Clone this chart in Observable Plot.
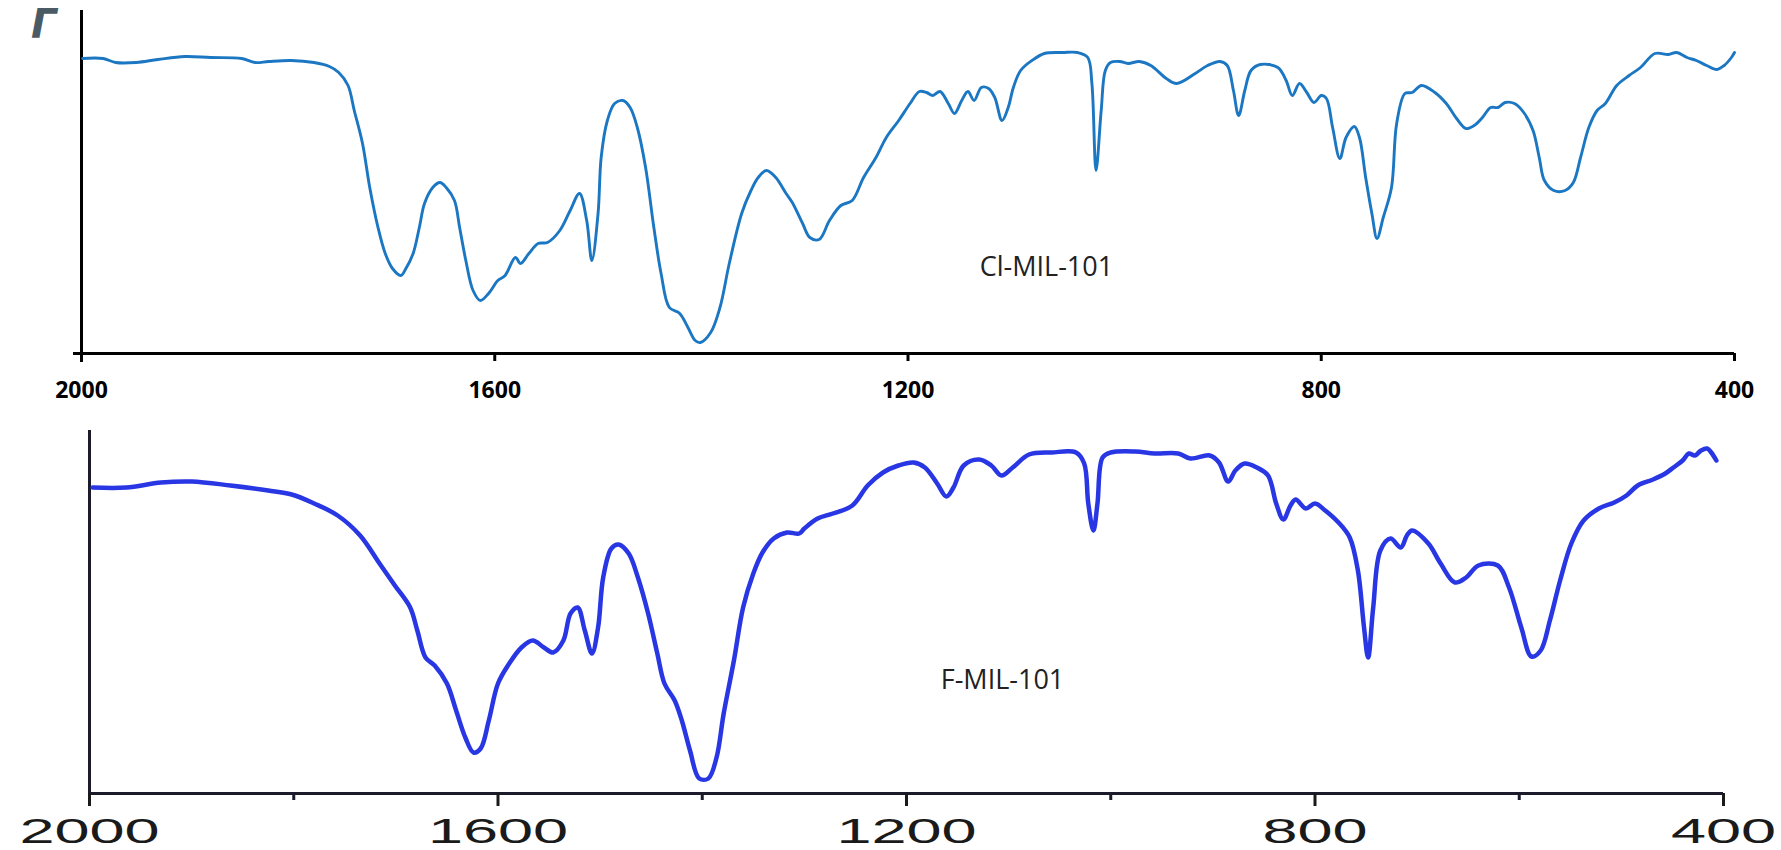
<!DOCTYPE html>
<html>
<head>
<meta charset="utf-8">
<script src="https://cdn.jsdelivr.net/npm/d3@7"></script>
<script src="https://cdn.jsdelivr.net/npm/@observablehq/plot@0.6"></script>
<style>
html, body { margin: 0; padding: 0; background: #fff; width: 1781px; height: 850px; overflow: hidden; }
#wrap { position: relative; width: 1781px; height: 850px; }
#top { position: absolute; left: 0; top: 0; }
#bottom { position: absolute; left: 0; top: 420px; }
#glyph { position: absolute; left: 31px; top: 4px; font: italic bold 40px "DejaVu Sans"; line-height: 1; color: #4b5b66; }
</style>
</head>
<body>
<div id="wrap">
  <div id="glyph">Γ</div>
  <div id="top"></div>
  <div id="bottom"></div>
</div>
<script>
// ---- Cl-MIL-101 spectrum (wavenumber, transmittance in arbitrary units) ----
const wnCl = [1999,1979,1967,1947,1926,1900,1875,1845,1832,1819,
  1797,1775,1760,1751,1742,1736,1728,1721,1713,1706,
  1699,1691,1686,1679,1673,1668,1660,1653,1647,1639,
  1634,1628,1621,1614,1606,1597,1590,1580,1575,1567,
  1558,1549,1537,1527,1518,1511,1506,1500,1497,1491,
  1484,1476,1469,1462,1454,1446,1439,1431,1421,1413,
  1406,1401,1391,1382,1373,1361,1352,1345,1337,1328,
  1318,1312,1302,1295,1286,1276,1265,1254,1243,1231,
  1221,1209,1198,1189,1182,1176,1169,1161,1155,1148,
  1142,1136,1129,1122,1116,1109,1103,1098,1091,1080,
  1068,1050,1036,1026,1022,1018,1013,1009,1004,995,
  987,976,965,950,940,922,910,898,891,885,
  880,874,868,859,842,834,828,821,814,807,
  800,795,789,782,776,768,763,757,751,746,
  740,732,727,719,712,703,690,679,669,660,
  652,644,636,629,622,613,604,595,589,584,
  575,564,556,549,541,533,525,514,502,491,
  477,464,456,446,437,427,417,410,403,400];
const tCl = [295,295,291,291,294,297,296,295,291,292,
  293,291,287,281,268,243,210,166,126,100,
  85,78,85,100,126,150,166,171,166,153,
  126,93,63,53,60,73,78,96,90,100,
  110,111,123,143,160,133,93,140,196,233,
  250,253,246,226,186,126,80,46,40,26,
  13,11,21,46,90,140,163,176,183,176,
  160,151,130,116,114,133,148,153,176,196,
  216,233,250,262,261,258,262,250,240,253,
  262,253,266,265,256,233,246,266,283,293,
  300,301,301,296,270,183,243,283,291,292,
  290,292,288,275,270,280,288,292,288,263,
  238,263,283,289,286,273,258,270,261,251,
  258,255,226,195,216,227,216,176,140,115,
  136,166,230,260,261,268,261,250,235,225,
  228,236,246,246,251,250,241,223,196,173,
  163,163,171,196,226,243,250,268,278,286,
  300,299,301,296,293,288,284,288,296,301];

// ---- F-MIL-101 spectrum ----
const wnF = [1997,1964,1930,1900,1862,1825,1802,1780,1757,1735,
  1716,1701,1686,1679,1671,1662,1650,1641,1632,1624,
  1617,1609,1600,1589,1577,1566,1555,1546,1536,1529,
  1522,1515,1508,1502,1497,1489,1482,1472,1463,1453,
  1444,1437,1427,1420,1412,1403,1394,1386,1379,1369,
  1360,1350,1341,1330,1317,1305,1300,1287,1272,1253,
  1238,1223,1208,1193,1182,1170,1161,1154,1144,1129,
  1117,1107,1096,1080,1058,1034,1026,1022,1017,1013,
  1008,1000,976,957,934,922,903,894,885,878,
  869,857,846,838,831,824,819,809,800,790,
  777,766,758,752,748,743,736,726,716,710,
  705,689,677,663,652,640,621,610,598,588,
  579,570,560,549,537,522,507,495,484,469,
  457,449,440,434,428,422,416,412,407];
const tF = [306,306,311,312,308,303,299,290,278,258,
  230,208,186,163,136,128,110,83,56,41,
  45,73,110,130,146,153,146,141,153,180,
  186,163,140,166,216,245,249,240,216,180,
  140,110,93,73,43,15,15,36,80,133,
  186,220,241,255,261,260,265,275,280,288,
  308,321,328,331,326,310,297,306,328,334,
  328,318,326,339,341,341,330,290,263,290,
  336,341,342,340,340,335,338,331,312,323,
  330,326,318,290,274,288,294,285,290,283,
  271,256,223,166,136,186,243,255,246,258,
  263,250,230,211,216,228,228,206,166,137,
  143,173,213,250,273,285,291,298,308,314,
  320,326,333,340,338,343,345,341,333];

// ---- axes ticks and annotations ----
const xTicks = [2000, 1600, 1200, 800, 400];
const xMinorTicks = [1800, 1400, 1000, 600];
const labelNames = ["Cl-MIL-101", "F-MIL-101"];
const labelWn = [1066, 1106];
const labelT = [86, 113];

const clData = wnCl.map((w, i) => ({wn: w, t: tCl[i]}));
const fData = wnF.map((w, i) => ({wn: w, t: tF[i]}));

const topPlot = Plot.plot({
  width: 1781, height: 420,
  marginTop: 10, marginBottom: 67, marginLeft: 81, marginRight: 47,
  x: {domain: [2000, 400], label: null},
  y: {domain: [0, 343], axis: null},
  style: {background: "transparent", overflow: "visible", fontFamily: "Open Sans"},
  marks: [
    Plot.ruleY([0], {stroke: "#000", strokeWidth: 3, insetLeft: -8}),
    Plot.ruleX([2000], {stroke: "#000", strokeWidth: 3, insetBottom: -9}),
    Plot.axisX({ticks: xTicks, tickSize: 8, tickPadding: 20, tickFormat: d => String(d),
      color: "#000", strokeWidth: 3, fontSize: 23, fontWeight: 700, fontFamily: "Open Sans", label: null}),
    Plot.line(clData, {x: "wn", y: "t", stroke: "#1c77c3", strokeWidth: 2.9, curve: "catmull-rom"}),
    Plot.text([0], {x: labelWn[0], y: labelT[0], text: [labelNames[0]], fontSize: 27, fontFamily: "Open Sans", fill: "#222", textAnchor: "middle"})
  ]
});
document.getElementById("top").appendChild(topPlot);

const bottomPlot = Plot.plot({
  width: 1781, height: 430,
  marginTop: 10, marginBottom: 57, marginLeft: 89, marginRight: 58,
  x: {domain: [2000, 400], label: null},
  y: {domain: [0, 363], axis: null},
  style: {background: "transparent", overflow: "visible", fontFamily: "Liberation Sans"},
  marks: [
    Plot.ruleY([0], {stroke: "#1b1b2b", strokeWidth: 3}),
    Plot.ruleX([2000], {stroke: "#1b1b2b", strokeWidth: 3}),
    Plot.axisX({ticks: xMinorTicks, tickSize: 7, text: null, color: "#1b1b2b", strokeWidth: 3, label: null}),
    Plot.axisX({ticks: xTicks, tickSize: 13, tickPadding: 12, tickFormat: d => String(d),
      color: "#1a1a1a", strokeWidth: 3, fontSize: 35, fontFamily: "Liberation Sans", label: null}),
    Plot.line(fData, {x: "wn", y: "t", stroke: "#2836e4", strokeWidth: 4.5, curve: "catmull-rom"}),
    Plot.text([0], {x: labelWn[1], y: labelT[1], text: [labelNames[1]], fontSize: 27, fontFamily: "Open Sans", fill: "#222", textAnchor: "middle"})
  ]
});
document.getElementById("bottom").appendChild(bottomPlot);

// the lower panel's tick labels are drawn horizontally stretched in the original figure
bottomPlot.querySelectorAll('g[aria-label="x-axis tick label"] text').forEach(t => {
  const tr = t.getAttribute("transform") || "";
  t.setAttribute("transform", tr + " scale(1.8,1)");
});
</script>
</body>
</html>
